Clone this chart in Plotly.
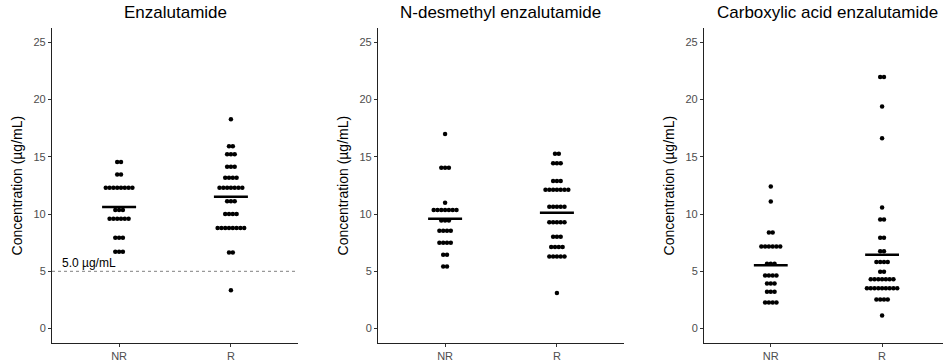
import plotly.graph_objects as go
from collections import Counter

# ---- data -------------------------------------------------------------
groups = ["NR", "R"]
panel_titles = ["Enzalutamide", "N-desmethyl enzalutamide", "Carboxylic acid enzalutamide"]
y_ticks = [0, 5, 10, 15, 20, 25]
y_axis_title = "Concentration (µg/mL)"
threshold = 5.0
threshold_label = "5.0 µg/mL"

# Enzalutamide (µg/mL)
enza_nr = [14.54, 14.54, 13.45, 13.45,
           12.30, 12.30, 12.30, 12.30, 12.30, 12.30, 12.30, 12.30,
           10.35, 10.35, 10.35,
           9.60, 9.60, 9.60, 9.60, 9.60, 9.60,
           7.93, 7.93, 7.93, 6.70, 6.70, 6.70]
enza_r = [18.28, 15.92, 15.92, 15.23, 15.23, 15.23,
          14.14, 14.14, 14.14, 13.16, 13.16, 13.16, 13.16,
          12.30, 12.30, 12.30, 12.30, 12.30, 12.30, 12.30,
          11.12, 11.12, 11.12, 10.00, 10.00, 10.00, 10.00,
          8.79, 8.79, 8.79, 8.79, 8.79, 8.79, 8.79, 8.79,
          6.64, 6.64, 3.34]

# N-desmethyl enzalutamide (µg/mL)
ndes_nr = [17.00, 14.05, 14.05, 14.05, 10.98,
           10.35, 10.35, 10.35, 10.35, 10.35, 10.35, 10.35,
           9.43, 9.43, 9.43, 8.54, 8.54, 8.54, 8.54,
           7.50, 7.50, 7.50, 7.50, 6.44, 6.44, 5.43, 5.43]
ndes_r = [15.26, 15.26, 14.43, 14.43, 14.43, 12.88, 12.88, 12.88,
          12.13, 12.13, 12.13, 12.13, 12.13, 12.13, 12.13,
          10.64, 10.64, 10.64, 10.64, 10.64,
          9.28, 9.28, 9.28, 9.28, 9.28,
          8.02, 8.02, 8.02, 7.13, 7.13, 7.13, 7.13,
          6.29, 6.29, 6.29, 6.29, 6.29, 3.10]

# Carboxylic acid enzalutamide (µg/mL)
carb_nr = [12.41, 11.09, 8.40, 8.40,
           7.16, 7.16, 7.16, 7.16, 7.16, 7.16,
           5.66, 5.66, 5.66, 4.63, 4.63, 4.63, 4.63,
           3.94, 3.94, 3.94, 3.22, 3.22, 3.22,
           2.27, 2.27, 2.27, 2.27]
carb_r = [21.98, 21.98, 19.40, 16.61, 10.58, 9.52, 9.52, 7.93, 7.93,
          6.76, 6.76, 5.81, 5.81, 5.81, 5.81, 4.97, 4.97,
          4.31, 4.31, 4.31, 4.31, 4.31, 4.31, 4.31,
          3.51, 3.51, 3.51, 3.51, 3.51, 3.51, 3.51, 3.51, 3.51,
          2.53, 2.53, 2.53, 2.53, 1.15]

panels = [(enza_nr, enza_r), (ndes_nr, ndes_r), (carb_nr, carb_r)]

# ---- styling / geometry ----------------------------------------------
W, H = 943, 362
FONT = "Liberation Sans, Arial, sans-serif"
DOT_STEP = 0.034      # horizontal spacing of stacked dots (x units)
BAR_HALF = 0.152      # half-width of mean bar (x units)
x_domains = [(52 / W, 298 / W), (378 / W, 624 / W), (704 / W, 1.0)]
x_ranges = [[0.4, 2.6], [0.4, 2.6], [0.4, 0.4 + (W - 704) / 111.3]]
y_domain = [(H - 346.7) / H, (H - 28.3) / H]
y_range = [-1.25, 26.25]


def stacked_dots(values, centre):
    xs, ys = [], []
    for v, n in Counter(values).items():
        for k in range(n):
            xs.append(centre + (k - (n - 1) / 2) * DOT_STEP)
            ys.append(v)
    return xs, ys


fig = go.Figure()
annotations = []
layout_axes = {}

for p, (nr, r) in enumerate(panels):
    sfx = "" if p == 0 else str(p + 1)
    xa, ya = "x" + sfx, "y" + sfx
    for g, vals in enumerate((nr, r)):
        centre = g + 1
        xs, ys = stacked_dots(vals, centre)
        fig.add_trace(go.Scatter(x=xs, y=ys, mode="markers", xaxis=xa, yaxis=ya,
                                 marker=dict(size=4.5, color="black", line=dict(width=0)),
                                 hoverinfo="y", showlegend=False))
        mean = sum(vals) / len(vals)
        fig.add_trace(go.Scatter(x=[centre - BAR_HALF, centre + BAR_HALF], y=[mean, mean],
                                 mode="lines", xaxis=xa, yaxis=ya,
                                 line=dict(color="black", width=2.5),
                                 hoverinfo="skip", showlegend=False))

    layout_axes["xaxis" + sfx] = dict(
        domain=list(x_domains[p]), range=x_ranges[p], anchor=ya,
        tickmode="array", tickvals=[1, 2], ticktext=groups,
        showline=True, linecolor="#222222", linewidth=1.1,
        ticks="outside", ticklen=3, tickcolor="#333333", tickwidth=1,
        tickfont=dict(family=FONT, size=11, color="#4D4D4D"),
        showgrid=False, zeroline=False, fixedrange=True)
    layout_axes["yaxis" + sfx] = dict(
        domain=y_domain, range=y_range, anchor=xa,
        tickmode="array", tickvals=y_ticks,
        showline=True, linecolor="#222222", linewidth=1.1,
        ticks="outside", ticklen=3, tickcolor="#333333", tickwidth=1,
        tickfont=dict(family=FONT, size=11, color="#4D4D4D"),
        showgrid=False, zeroline=False, fixedrange=True)

    x0, x1 = x_domains[p]
    centre_x = (x0 + (x0 + 246 / W)) / 2
    annotations.append(dict(text=panel_titles[p], xref="paper", yref="paper",
                            x=centre_x, y=1 - 13 / H, xanchor="center", yanchor="middle",
                            showarrow=False, font=dict(family=FONT, size=17, color="black")))
    annotations.append(dict(text=y_axis_title, xref="paper", yref="paper",
                            x=(x0 * W - 35) / W, y=sum(y_domain) / 2, textangle=-90,
                            xanchor="center", yanchor="middle", showarrow=False,
                            font=dict(family=FONT, size=14, color="black")))

# threshold line and label on the first panel
fig.add_shape(type="line", xref="x", yref="y", x0=0.4, x1=2.6, y0=threshold, y1=threshold,
              line=dict(color="#808080", width=1, dash="3px,3px"))
annotations.append(dict(text=threshold_label, xref="x", yref="y", x=0.47, y=threshold + 0.75,
                        xanchor="left", yanchor="middle", showarrow=False,
                        font=dict(family=FONT, size=12, color="black")))

fig.update_layout(width=W, height=H, margin=dict(l=0, r=0, t=0, b=0),
                  paper_bgcolor="white", plot_bgcolor="white",
                  annotations=annotations, **layout_axes)

fig.write_html("out.html")
